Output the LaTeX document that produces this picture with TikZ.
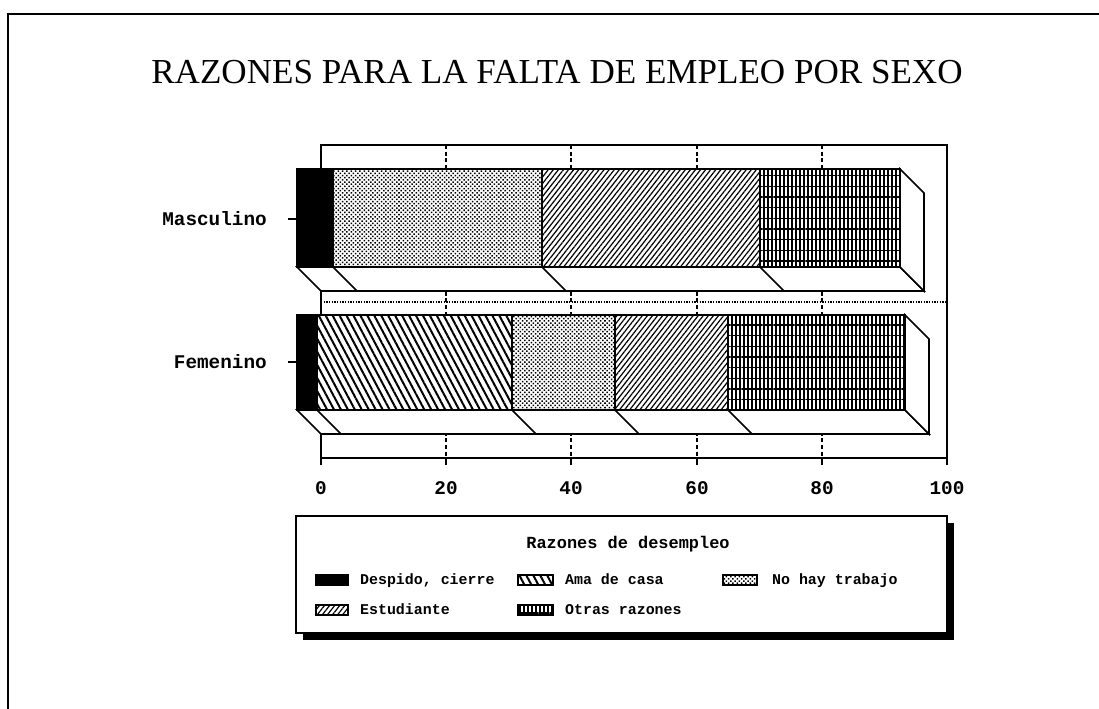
\documentclass[tikz,border=0pt]{standalone}
\usepackage{fontspec}
\setmainfont{Liberation Serif}
\setmonofont{Liberation Mono}
\usetikzlibrary{patterns.meta}

\begin{document}
\begin{tikzpicture}[x=0.75pt,y=-0.75pt,line width=1.2pt,
  despido/.style={fill=black},
  amacasa/.style={preaction={fill=white},pattern={Lines[angle=-62,distance=4.6pt,line width=1.5pt]}},
  nohay/.style={preaction={fill=white},pattern={Dots[radius=0.8pt,distance=2.3pt,angle=45]}},
  estudiante/.style={preaction={fill=white},pattern={Lines[angle=52,distance=3pt,line width=0.9pt]}},
  otras/.style={preaction={fill=white},pattern={Lines[angle=90,distance=3pt,line width=1.1pt]},
    postaction={pattern={Lines[angle=0,distance=8pt,line width=0.8pt]}}},
  lbl/.style={font=\ttfamily\bfseries\fontsize{14.5}{16}\selectfont},
  leg/.style={font=\ttfamily\bfseries\fontsize{11.2}{14}\selectfont,inner sep=1pt,anchor=base west}]

\useasboundingbox (0,0) rectangle (1099,709);
% frame
\draw [line width=2pt] (8,709) -- (8,14) -- (1099,14);

% title
\node (title) at (557,72) {\fontsize{26.3}{31}\selectfont RAZONES PARA LA FALTA DE EMPLEO POR SEXO};

% back plane
\foreach \x in {446,571,697,822}
  \draw [dash pattern=on 3pt off 2pt,line width=0.8pt] (\x,145) -- (\x,458);
\draw [dash pattern=on 1pt off 1pt,line width=0.8pt] (321,302) -- (947,302);
\draw (321,465) -- (321,145) -- (947,145) -- (947,465);
\draw (321,458) -- (947,458);
\foreach \x in {446,571,697,822}
  \draw (\x,458) -- (\x,465);

\foreach \v/\x in {0/321,20/446,40/571,60/697,80/822,100/947}
  \node [lbl] (t\v) at (\x,488) {\v};

% Masculino
\draw [fill=white] (297,267) -- (900,267) -- (924,291) -- (321,291) -- cycle;
\draw [fill=white] (900,169) -- (924,193) -- (924,291) -- (900,267) -- cycle;
\foreach \x in {333,542,760}
  \draw (\x,267) -- ++(24,24);
\draw [despido] (297,169) rectangle (333,267);
\draw [nohay] (333,169) rectangle (542,267);
\draw [estudiante] (542,169) rectangle (760,267);
\draw [otras] (760,169) rectangle (900,267);

% Femenino
\draw [fill=white] (297,410) -- (905,410) -- (929,434) -- (321,434) -- cycle;
\draw [fill=white] (905,315) -- (929,339) -- (929,434) -- (905,410) -- cycle;
\foreach \x in {317,512,615,728}
  \draw (\x,410) -- ++(24,24);
\draw [despido] (297,315) rectangle (317,410);
\draw [amacasa] (317,315) rectangle (512,410);
\draw [nohay] (512,315) rectangle (615,410);
\draw [estudiante] (615,315) rectangle (728,410);
\draw [otras] (728,315) rectangle (905,410);

% categories
\draw (288,219) -- (297,219);
\draw (288,362) -- (297,362);
\node [lbl,anchor=east] (masc) at (272,219) {Masculino};
\node [lbl,anchor=east] (fem) at (272,362) {Femenino};

% legend
\fill (303,523) rectangle (954,640);
\draw [fill=white] (296,516) rectangle (947,633);
\node [leg,anchor=base,font=\ttfamily\bfseries\fontsize{12.7}{14}\selectfont] (legtitle) at (628,548) {Razones de desempleo};
\draw [despido,line width=0.8pt] (316,575) rectangle (348,585);
\node [leg] (lgdespido) at (358,584) {Despido, cierre};
\draw [amacasa,line width=0.8pt] (518,575) rectangle (553,585);
\node [leg] (lgamacasa) at (563,584) {Ama de casa};
\draw [nohay,line width=0.8pt] (723,575) rectangle (757,585);
\node [leg] (lgnohay) at (770,584) {No hay trabajo};
\draw [estudiante,line width=0.8pt] (316,605) rectangle (348,615);
\node [leg] (lgestudiante) at (358,614) {Estudiante};
\draw [otras,line width=0.8pt] (518,605) rectangle (553,615);
\node [leg] (lgotras) at (563,614) {Otras razones};

\end{tikzpicture}
\end{document}
